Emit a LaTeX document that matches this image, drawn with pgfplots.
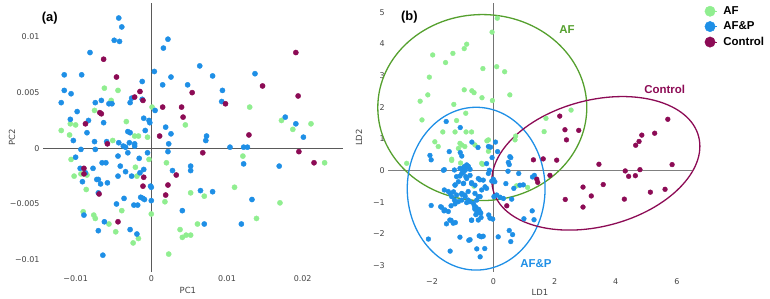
\documentclass[border=0pt]{standalone}
\usepackage{pgfplots}
\pgfplotsset{compat=1.18}
\usepackage{pgfplotstable}
\usepackage{fontspec}
\setmainfont{DejaVu Sans}
\newfontfamily\labfont{Liberation Sans}
\definecolor{cAF}{HTML}{90EE90}
\definecolor{cAFP}{HTML}{1E8FE6}
\definecolor{cCT}{HTML}{8C0B55}
\definecolor{eAF}{HTML}{55A02E}
\definecolor{axc}{HTML}{5A5A5A}
\definecolor{tickc}{HTML}{444444}

% ---------- panel (a): PCA ----------
\pgfplotstableread{
x y
-0.0062 0.0054
-0.0044 0.0052
-0.0053 0.0043
-0.0075 0.0034
-0.0033 0.0024
-0.0107 0.0022
-0.0100 0.0021
-0.0119 0.0016
-0.0108 0.0012
0.0045 0.0021
0.0130 0.0037
0.0001 0.0037
0.0172 0.0025
0.0187 0.0017
0.0211 0.0022
-0.0051 0.0007
-0.0022 0.0011
-0.0017 0.0011
-0.0005 0.0010
-0.0106 -0.0010
-0.0102 -0.0025
-0.0093 -0.0023
-0.0085 -0.0024
-0.0086 -0.0037
-0.0021 -0.0017
-0.0019 -0.0025
0.0020 -0.0013
-0.0003 -0.0010
-0.0090 -0.0057
-0.0076 -0.0060
-0.0074 -0.0063
-0.0056 -0.0068
-0.0039 -0.0056
-0.0047 -0.0075
-0.0024 -0.0085
-0.0017 -0.0081
0.0000 -0.0059
0.0018 -0.0048
0.0023 -0.0095
0.0052 -0.0040
0.0070 -0.0043
0.0038 -0.0073
0.0041 -0.0080
0.0046 -0.0078
0.0052 -0.0078
0.0061 -0.0068
0.0110 -0.0035
0.0121 -0.0007
0.0139 -0.0063
0.0170 -0.0049
0.0229 -0.0013
}\aAF

\pgfplotstableread{
x y
-0.0043 0.0117
-0.0039 0.0109
-0.0049 0.0097
-0.0042 0.0096
-0.0081 0.0086
0.0022 0.0098
0.0016 0.0090
-0.0115 0.0066
-0.0092 0.0066
0.0004 0.0069
0.0026 0.0064
-0.0012 0.0060
0.0064 0.0074
0.0081 0.0065
0.0137 0.0067
0.0015 0.0057
0.0048 0.0057
-0.0115 0.0052
-0.0106 0.0049
0.0094 0.0052
-0.0119 0.0041
-0.0098 0.0033
-0.0074 0.0041
-0.0066 0.0043
-0.0056 0.0040
-0.0052 0.0040
-0.0028 0.0041
-0.0026 0.0045
-0.0012 0.0044
0.0093 0.0042
0.0005 0.0034
-0.0107 0.0026
-0.0083 0.0025
-0.0010 0.0027
-0.0003 0.0025
-0.0002 0.0023
-0.0063 0.0023
0.0177 0.0028
0.0191 0.0022
0.0019 0.0019
-0.0085 0.0014
-0.0031 0.0015
-0.0028 0.0014
-0.0008 0.0016
0.0026 0.0013
-0.0103 0.0007
-0.0075 0.0006
-0.0059 0.0006
-0.0043 0.0005
0.0073 0.0011
0.0072 0.0007
0.0201 0.0010
0.0023 0.0004
-0.0029 0.0005
-0.0022 0.0004
-0.0022 0.0002
-0.0037 0.0002
-0.0034 0.0001
0.0104 0.0001
0.0122 0.0001
0.0127 0.0001
-0.0093 -0.0001
-0.0074 -0.0001
-0.0100 -0.0008
-0.0044 -0.0007
-0.0031 -0.0004
-0.0016 -0.0009
-0.0005 -0.0004
0.0022 -0.0003
-0.0094 -0.0018
-0.0087 -0.0022
-0.0060 -0.0013
-0.0065 -0.0013
-0.0077 -0.0018
-0.0044 -0.0025
-0.0041 -0.0016
-0.0034 -0.0021
-0.0026 -0.0025
-0.0015 -0.0022
-0.0010 -0.0019
-0.0091 -0.0030
-0.0072 -0.0028
-0.0070 -0.0028
-0.0067 -0.0032
-0.0058 -0.0031
-0.0001 -0.0034
0.0000 -0.0035
-0.0070 -0.0040
-0.0014 -0.0044
-0.0011 -0.0045
-0.0009 -0.0046
0.0000 -0.0047
-0.0036 -0.0045
-0.0046 -0.0050
-0.0023 -0.0051
-0.0018 -0.0051
-0.0089 -0.0060
-0.0062 -0.0066
-0.0070 -0.0074
-0.0028 -0.0073
-0.0019 -0.0077
-0.0064 -0.0096
0.0028 -0.0020
0.0052 -0.0016
0.0052 -0.0020
0.0041 -0.0056
0.0065 -0.0038
0.0081 -0.0039
0.0070 -0.0068
0.0122 -0.0014
0.0133 -0.0046
0.0169 -0.0016
0.0119 -0.0068
}\aAFP

\pgfplotstableread{
x y
-0.0063 0.0080
-0.0046 0.0064
-0.0015 0.0051
-0.0022 0.0046
-0.0011 0.0043
-0.0068 0.0032
-0.0066 0.0031
-0.0087 0.0022
0.0054 0.0050
0.0015 0.0037
0.0040 0.0037
0.0042 0.0028
0.0098 0.0040
0.0147 0.0056
0.0191 0.0086
0.0194 0.0047
0.0129 0.0012
0.0011 0.0011
-0.0058 0.0004
-0.0089 -0.0018
-0.0089 -0.0023
-0.0069 -0.0041
-0.0010 -0.0026
-0.0011 -0.0034
0.0022 -0.0033
0.0019 -0.0042
0.0033 -0.0024
-0.0044 -0.0066
0.0068 -0.0004
0.0195 -0.0003
0.0215 -0.0013
}\aCT

% ---------- panel (b): LDA ----------
\pgfplotstableread{
x y
0.13 4.81
-0.04 4.37
-0.87 3.99
-0.95 3.85
-1.32 3.70
-1.98 3.65
-1.56 3.41
-0.34 3.22
0.11 3.28
0.37 3.12
-2.09 2.95
-0.95 2.55
-0.70 2.52
-0.63 2.46
-0.37 2.30
-0.03 2.21
0.54 2.39
-2.14 2.39
-2.39 2.19
-1.29 2.09
-0.90 1.81
-2.33 1.60
-1.20 1.58
-1.65 1.22
-1.25 1.22
-0.89 1.22
-0.71 1.22
2.54 1.91
1.72 1.65
1.66 1.23
0.73 1.09
-0.21 0.94
-1.91 0.91
-1.80 0.76
-1.09 0.86
-1.03 0.81
-0.93 0.76
-1.14 0.70
-0.60 0.81
-1.36 0.36
-2.83 0.23
-1.36 0.32
-1.07 0.24
-0.35 0.20
-0.16 0.61
-0.63 -0.49
0.76 -0.48
1.12 -0.53
-0.16 0.97
0.71 0.97
-0.38 0.23
}\bAF

\pgfplotstableread{
x y
-2.07 0.48
-2.03 0.34
-2.12 -2.16
-2.03 -1.10
-1.72 -1.14
-1.61 -1.27
-1.38 -1.57
-1.41 -2.54
-1.24 -1.64
-1.09 -2.10
-0.80 -2.20
-0.76 -2.18
-0.54 -2.47
-0.43 -2.72
-0.28 -2.46
-0.39 -2.09
-0.33 -2.07
-0.71 -1.57
-0.57 -1.39
-0.52 -1.29
-0.48 -1.22
-0.60 -1.22
-0.57 -1.16
-0.41 -1.34
-0.40 -1.48
-0.15 -1.40
-0.11 -1.50
-0.02 -1.53
0.16 -2.09
0.52 -1.89
0.63 -2.02
0.57 -2.24
1.00 -1.52
1.33 -1.55
1.27 -1.27
0.60 -0.90
0.33 -0.88
0.02 -0.82
0.11 -0.77
0.22 -0.84
0.00 -0.27
-0.05 -0.33
0.05 -0.35
-0.16 -0.09
-0.13 0.01
-0.22 0.22
-0.04 0.41
0.57 0.41
0.83 -0.09
0.41 -0.41
0.67 -0.56
0.87 -0.46
1.28 -0.20
1.34 -0.15
0.48 -0.02
0.98 -0.45
0.52 0.19
-1.44 0.60
-1.08 0.57
-1.03 0.46
-1.60 0.03
-1.27 0.02
-1.09 0.07
-1.03 0.04
-0.98 -0.06
-0.93 0.13
-0.87 0.18
-0.82 0.11
-0.76 0.04
-0.90 -0.19
-1.09 -0.17
-1.20 -0.19
-0.71 -0.38
-0.97 -0.40
-1.25 -0.45
-1.60 -0.61
-1.47 -0.66
-1.41 -0.72
-1.03 -0.72
-0.93 -0.77
-0.82 -0.66
-1.36 -0.82
-1.27 -0.93
-1.14 -0.98
-1.25 -1.05
-1.38 -1.11
-1.58 -1.24
-1.69 -1.16
-1.47 -1.29
-1.03 -0.93
-0.87 -1.01
-0.60 -1.19
-0.49 -1.24
-0.54 -1.35
-0.62 -1.11
-0.49 -1.56
-0.71 -1.56
-1.42 -1.56
-1.31 -1.66
-1.53 -1.68
-0.46 -2.06
-0.49 -0.82
-0.44 -1.29
-0.44 -0.29
-0.60 -0.72
-0.96 0.11
-0.82 0.14
-0.92 0.01
-1.03 -0.09
-0.76 -0.15
-0.87 -0.25
-1.14 -0.35
-0.98 -0.41
-0.71 -0.41
-0.60 -0.46
-0.49 -0.25
-0.33 -0.30
-0.27 -0.51
-0.38 -0.61
-0.22 -0.56
-1.20 -0.77
-1.03 -0.75
-0.92 -0.82
-0.82 -0.93
-0.76 -0.98
-0.65 -1.03
-0.54 -0.93
-0.43 -0.82
-1.25 -0.46
-1.30 -0.67
-1.63 0.01
-1.54 1.55
-1.08 1.36
-0.70 0.90
-0.50 0.73
-0.09 0.74
0.07 0.90
0.14 0.60
-0.16 0.76
0.54 0.44
0.49 0.26
}\bAFP

\pgfplotstableread{
x y
2.17 1.72
2.34 1.29
2.79 1.27
2.39 0.97
5.70 1.62
5.27 1.18
4.85 1.12
4.76 0.92
4.65 0.80
1.63 0.37
2.07 0.33
1.31 0.34
3.45 0.20
5.84 0.19
1.85 -0.15
4.31 -0.01
4.42 -0.18
4.64 -0.16
4.79 0.03
2.93 -0.52
3.59 -0.44
3.20 -0.80
2.35 -0.91
4.28 -0.90
5.13 -0.68
5.61 -0.59
2.93 -1.15
1.42 -0.27
1.45 -0.37
0.44 -1.11
}\bCT

\pgfplotsset{
  common/.style={
    scale only axis,
    anchor=south west,
    axis line style={draw=none},
    major tick length=0pt,
    scaled ticks=false,
    clip=false,
    ticklabel style={font=\fontsize{8}{9}\selectfont, text=tickc},
    label style={font=\fontsize{8.5}{10}\selectfont, text=tickc},
  },
  pts/.style={only marks, mark=*, mark size=#1, forget plot},
}

\begin{document}
\begin{tikzpicture}
\path[use as bounding box] (0bp,0bp) rectangle (770bp,299bp);

% ---------------- panel (a) ----------------
\begin{axis}[common,
  at={(43bp,27bp)}, width=300bp, height=269bp,
  xmin=-0.01431, xmax=0.02533, ymin=-0.01111, ymax=0.01305,
  xtick={-0.01,0,0.01,0.02}, xticklabels={−0.01,0,0.01,0.02},
  ytick={-0.01,-0.005,0,0.005,0.01}, yticklabels={−0.01,−0.005,0,0.005,0.01},
  xlabel={PC1}, ylabel={PC2},
  xlabel style={at={(axis description cs:0.483,-0.067)}, anchor=center},
  ylabel style={at={(axis description cs:-0.103,0.5)}, anchor=center},
]
\draw[axc, line width=0.9bp] (axis cs:-0.01431,0) -- (axis cs:0.02533,0);
\draw[axc, line width=0.9bp] (axis cs:0,-0.01111) -- (axis cs:0,0.01305);
\addplot[pts=2.6bp, color=cAF] table {\aAF};
\addplot[pts=2.6bp, color=cAFP] table {\aAFP};
\addplot[pts=2.6bp, color=cCT] table {\aCT};
\node[font=\labfont\bfseries\fontsize{13}{15}\selectfont] at (axis cs:-0.01341,0.01170) {(a)};
\end{axis}

% ---------------- panel (b) ----------------
\begin{axis}[common,
  at={(388.3bp,27.3bp)}, width=303.4bp, height=268.4bp,
  xmin=-3.43, xmax=6.48, ymin=-3.19, ymax=5.28,
  xtick={-2,0,2,4,6}, xticklabels={−2,0,2,4,6},
  ytick={-3,-2,-1,0,1,2,3,4,5}, yticklabels={−3,−2,−1,0,1,2,3,4,5},
  xticklabel style={yshift=-3bp},
  xlabel={LD1}, ylabel={LD2},
  xlabel style={at={(axis description cs:0.5,-0.079)}, anchor=center},
  ylabel style={at={(axis description cs:-0.097,0.5)}, anchor=center},
  legend style={at={(rel axis cs:1.042,0.993)}, anchor=north west, draw=none, fill=none,
    font=\labfont\bfseries\fontsize{11.5}{13}\selectfont, inner sep=0pt, row sep=3.5bp,
    column sep=5bp, nodes={inner sep=1.2bp}},
  legend cell align=left,
  legend image code/.code={\fill[#1] (5bp,0bp) circle (5.2bp); \path (0bp,0bp) -- (12bp,0bp);},
]
\draw[gray, line width=0.8bp] (axis cs:-3.43,0) -- (axis cs:6.48,0);
\draw[gray!90!black, line width=0.8bp] (axis cs:0,-3.19) -- (axis cs:0,5.28);
\addplot[pts=2.4bp, color=cAF] table {\bAF};
\addplot[pts=2.4bp, color=cAFP] table {\bAFP};
\addplot[pts=2.4bp, color=cCT] table {\bCT};
\draw[eAF, line width=1.3bp] (axis cs:-0.36,1.99) ellipse [x radius=104.5bp, y radius=93bp];
\draw[cAFP, line width=1.3bp] (axis cs:-0.56,-0.57) ellipse [x radius=68.9bp, y radius=81.4bp];
\draw[cCT, line width=1.3bp, rotate around={14.6:(axis cs:3.35,0.23)}] (axis cs:3.35,0.23) ellipse [x radius=106.2bp, y radius=63.2bp];
\node[font=\labfont\bfseries\fontsize{13}{15}\selectfont] at (axis cs:-2.74,4.85) {(b)};
\node[font=\labfont\bfseries\fontsize{11.5}{13}\selectfont, text=eAF] at (axis cs:2.41,4.44) {AF};
\node[font=\labfont\bfseries\fontsize{11.5}{13}\selectfont, text=cCT] at (axis cs:5.60,2.55) {Control};
\node[font=\labfont\bfseries\fontsize{11.5}{13}\selectfont, text=cAFP] at (axis cs:1.39,-2.92) {AF\&P};
\addlegendimage{cAF}\addlegendentry{AF}
\addlegendimage{cAFP}\addlegendentry{AF\&P}
\addlegendimage{cCT}\addlegendentry{Control}
\end{axis}
\end{tikzpicture}
\end{document}
